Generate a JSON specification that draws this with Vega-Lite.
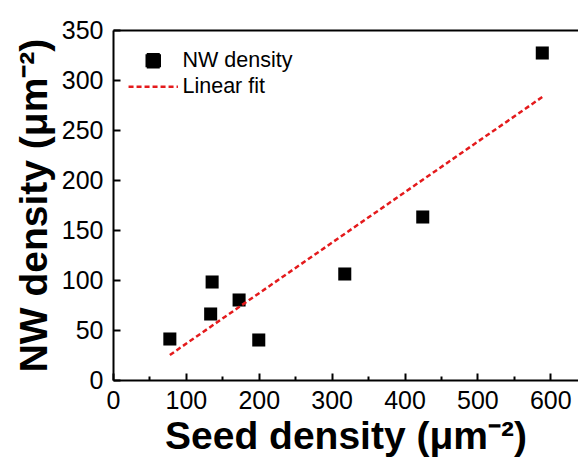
{
  "$schema": "https://vega.github.io/schema/vega-lite/v6.json",
  "width": 465,
  "height": 350,
  "autosize": "none",
  "padding": {"left": 113, "top": 30, "right": 0, "bottom": 77},
  "background": "white",
  "config": {"view": {"stroke": null}, "font": "Liberation Sans"},
  "layer": [
    {
      "data": {"values": [
        {"seed": 78, "nw": 41, "series": "NW density"},
        {"seed": 136, "nw": 98, "series": "NW density"},
        {"seed": 134, "nw": 66, "series": "NW density"},
        {"seed": 173, "nw": 80, "series": "NW density"},
        {"seed": 200, "nw": 40, "series": "NW density"},
        {"seed": 318, "nw": 106, "series": "NW density"},
        {"seed": 425, "nw": 163, "series": "NW density"},
        {"seed": 589, "nw": 327, "series": "NW density"}
      ]},
      "mark": {"type": "point", "filled": true, "size": 170, "opacity": 1, "strokeWidth": 0},
      "encoding": {
        "x": {
          "field": "seed", "type": "quantitative",
          "scale": {"domain": [0, 638], "nice": false, "zero": false},
          "axis": {
            "values": [0, 50, 100, 150, 200, 250, 300, 350, 400, 450, 500, 550, 600],
            "labelExpr": "datum.value % 100 === 0 ? datum.label : ''",
            "tickSize": {"condition": {"test": "datum.value % 100 === 0", "value": -7}, "value": -4},
            "tickColor": "black", "tickWidth": 2,
            "domainColor": "black", "domainWidth": 2,
            "labelFontSize": 25, "labelColor": "black", "labelFont": "Liberation Sans",
            "labelPadding": 15, "labelFlush": false, "labelOverlap": false,
            "grid": false,
            "title": "Seed density (μm⁻²)",
            "titleFontSize": 39, "titleFontWeight": "bold", "titleColor": "black", "titleFont": "Liberation Sans",
            "titlePadding": 1
          }
        },
        "y": {
          "field": "nw", "type": "quantitative",
          "scale": {"domain": [0, 350], "nice": false, "zero": false},
          "axis": {
            "values": [0, 25, 50, 75, 100, 125, 150, 175, 200, 225, 250, 275, 300, 325, 350],
            "labelExpr": "datum.value % 50 === 0 ? datum.label : ''",
            "tickSize": {"condition": {"test": "datum.value % 50 === 0", "value": -7}, "value": -4},
            "tickColor": "black", "tickWidth": 2,
            "domainColor": "black", "domainWidth": 2,
            "labelFontSize": 25, "labelColor": "black", "labelFont": "Liberation Sans",
            "labelPadding": 17, "labelFlush": false, "labelOverlap": false,
            "grid": false,
            "title": "NW density (μm⁻²)",
            "titleFontSize": 39, "titleFontWeight": "bold", "titleColor": "black", "titleFont": "Liberation Sans",
            "titlePadding": 7
          }
        },
        "color": {
          "field": "series", "type": "nominal",
          "scale": {"domain": ["NW density", "Linear fit"], "range": ["black", "#e41a1c"]},
          "legend": {
            "title": null,
            "orient": "none",
            "legendX": 29.5,
            "legendY": 20,
            "padding": 0,
            "labelFontSize": 21.5,
            "labelFont": "Liberation Sans",
            "labelColor": "black",
            "labelOffset": 18.5,
            "rowPadding": 2,
            "symbolSize": 169,
            "symbolStrokeWidth": 2.5,
            "symbolOpacity": 1
          }
        },
        "stroke": {
          "field": "series", "type": "nominal",
          "scale": {"domain": ["NW density", "Linear fit"], "range": ["black", "#e41a1c"]},
          "legend": {"title": null}
        },
        "shape": {
          "field": "series", "type": "nominal",
          "scale": {"domain": ["NW density", "Linear fit"], "range": ["square", "M-3.8,0H3.8"]},
          "legend": {"title": null}
        }
      }
    },
    {
      "data": {"values": [
        {"seed": 78, "nw": 25, "series": "Linear fit"},
        {"seed": 589, "nw": 283, "series": "Linear fit"}
      ]},
      "mark": {"type": "line", "strokeWidth": 2.5},
      "encoding": {
        "x": {
          "field": "seed", "type": "quantitative",
          "axis": {"orient": "top", "labels": false, "ticks": false, "title": null, "grid": false, "domainColor": "black", "domainWidth": 2}
        },
        "y": {"field": "nw", "type": "quantitative"},
        "color": {"field": "series", "type": "nominal"},
        "strokeDash": {
          "field": "series", "type": "nominal",
          "scale": {"domain": ["NW density", "Linear fit"], "range": [[1, 0], [5, 3]]},
          "legend": {"title": null}
        }
      }
    }
  ],
  "resolve": {"axis": {"x": "independent"}}
}
